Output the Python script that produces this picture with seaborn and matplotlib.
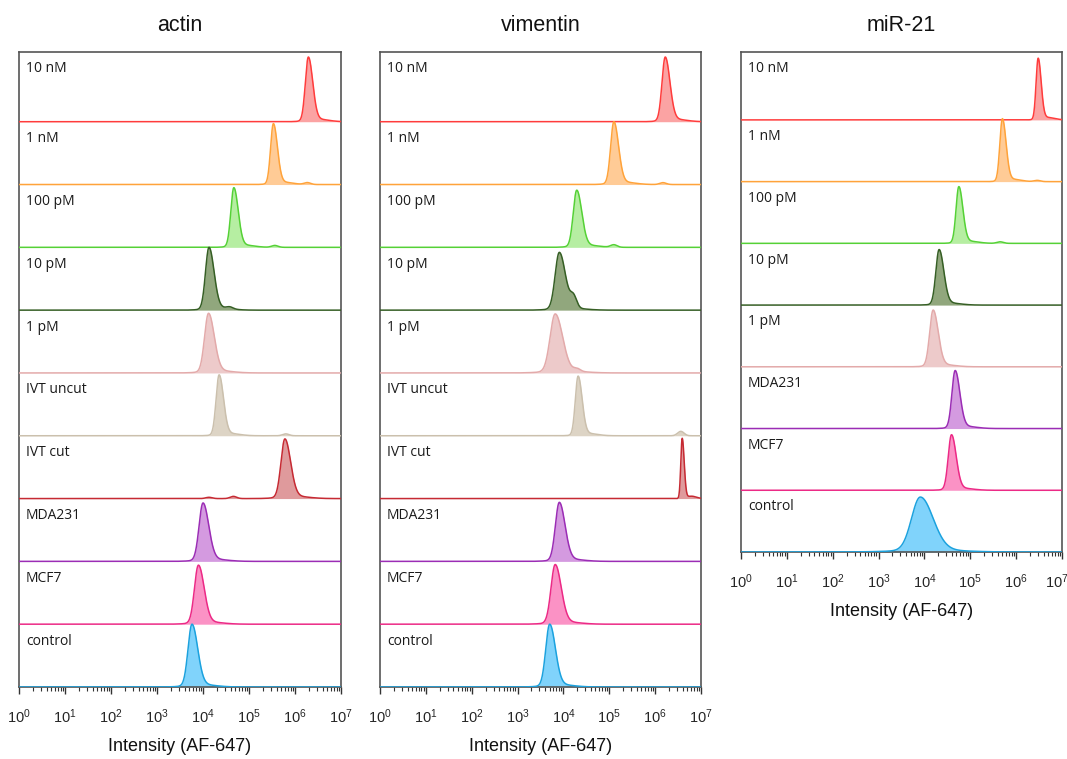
import numpy as np
import pandas as pd
import matplotlib
matplotlib.use("Agg")
import matplotlib.pyplot as plt
import matplotlib.transforms as mtransforms
import seaborn as sns
from matplotlib.ticker import LogLocator, NullFormatter

sns.set_theme(style="white")
plt.rcParams['font.family'] = ['Liberation Sans', 'DejaVu Sans']
plt.rcParams['mathtext.fontset'] = 'custom'
plt.rcParams['mathtext.rm'] = 'Liberation Sans'

# sample rows, top to bottom
samples = ["10 nM", "1 nM", "100 pM", "10 pM", "1 pM", "IVT uncut", "IVT cut",
           "MDA231", "MCF7", "control"]
mir_samples = ["10 nM", "1 nM", "100 pM", "10 pM", "1 pM", "MDA231", "MCF7", "control"]

line_colors = {"10 nM": "#ff3c3c", "1 nM": "#ffa33a", "100 pM": "#55d136",
               "10 pM": "#365f25", "1 pM": "#e3aaaa", "IVT uncut": "#cbc0ad",
               "IVT cut": "#c62a33", "MDA231": "#9b2db5", "MCF7": "#ec2a86",
               "control": "#1ca2de"}
fill_colors = {"10 nM": "#fba3a3", "1 nM": "#ffcb96", "100 pM": "#b6eea2",
               "10 pM": "#91a77d", "1 pM": "#edcaca", "IVT uncut": "#ddd4c5",
               "IVT cut": "#df9a9c", "MDA231": "#d49ae0", "MCF7": "#fb92c5",
               "control": "#80d3fb"}

# peak position (log10 intensity), peak width (decades), peak height (rows)
actin_peak = [6.29, 5.53, 4.67, 4.13, 4.12, 4.35, 5.78, 4.00, 3.90, 3.76]
actin_width = [0.065, 0.06, 0.065, 0.075, 0.085, 0.065, 0.085, 0.085, 0.085, 0.085]
actin_height = [1.03, 0.97, 0.95, 1.0, 0.95, 0.97, 0.95, 0.93, 0.94, 1.0]
actin_minor = [[], [(6.27, 0.03)], [(5.56, 0.03)], [(4.58, 0.03)], [],
               [(5.80, 0.03)], [(4.13, 0.02), (4.66, 0.035)], [], [], []]

vim_peak = [6.22, 5.10, 4.29, 3.91, 3.82, 4.32, 6.59, 3.91, 3.82, 3.70]
vim_width = [0.07, 0.07, 0.075, 0.09, 0.11, 0.06, 0.03, 0.085, 0.09, 0.085]
vim_height = [1.03, 1.0, 0.91, 0.92, 0.94, 0.95, 0.96, 0.94, 0.95, 1.0]
vim_minor = [[], [(6.17, 0.03)], [(5.10, 0.04)], [(4.22, 0.18)], [(4.3, 0.04)],
             [(6.56, 0.07)], [], [], [], []]

mir_peak = [6.48, 5.70, 4.75, 4.32, 4.19, 4.67, 4.59, 3.91]
mir_width = [0.045, 0.055, 0.06, 0.07, 0.075, 0.07, 0.07, 0.19]
mir_height = [1.0, 1.02, 0.92, 0.9, 0.92, 0.94, 0.9, 0.89]
mir_minor = [[], [(6.46, 0.02)], [(5.65, 0.025)], [], [], [], [], []]

grid = np.linspace(0, 7, 2101)


def curve(center, width, height, minor):
    sig = np.where(grid < center, width, width * 1.45)
    y = np.exp(-0.5 * ((grid - center) / sig) ** 2)
    y += 0.04 * np.exp(-0.5 * ((grid - center - 0.2) / (width * 3.5)) ** 2)
    y = y / y.max() * height
    for pos, h in minor:
        y += h * np.exp(-0.5 * ((grid - pos) / 0.07) ** 2)
    return y


def draw_panel(ax, title, names, peaks, widths, heights, minors, ytop):
    n = len(names)
    trans = mtransforms.blended_transform_factory(ax.transAxes, ax.transData)
    for i, name in enumerate(names):
        base = n - 1 - i
        df = pd.DataFrame({"x": 10 ** grid,
                           "y": base + curve(peaks[i], widths[i], heights[i], minors[i])})
        ax.fill_between(df["x"], base, df["y"], color=fill_colors[name], lw=0, zorder=2)
        sns.lineplot(data=df, x="x", y="y", ax=ax, color=line_colors[name],
                     lw=1.1, sort=False, estimator=None, zorder=3)
        row_top = ytop if i == 0 else base + 1
        ax.text(0.022, row_top - 0.27, name, transform=trans, ha="left", va="center",
                fontsize=10, family=["Open Sans", "DejaVu Sans"], color="#1a1a1a")
    ax.set_xscale("log")
    ax.set_xlim(1, 1e7)
    ax.set_ylim(0, ytop)
    ax.set_yticks([])
    ax.set_ylabel("")
    ax.set_xticks([10 ** k for k in range(8)])
    ax.set_xticklabels([f"$\\mathregular{{10^{{{k}}}}}$" for k in range(8)])
    ax.xaxis.set_minor_locator(LogLocator(base=10, subs=np.arange(2, 10), numticks=20))
    ax.xaxis.set_minor_formatter(NullFormatter())
    ax.tick_params(axis="x", which="major", direction="out", length=5, width=1,
                   color="#333333", labelsize=10.5, pad=10, bottom=True)
    ax.tick_params(axis="x", which="minor", direction="out", length=3, width=0.8,
                   color="#333333", bottom=True)
    for sp in ax.spines.values():
        sp.set_color("#555555")
        sp.set_linewidth(1.2)
    ax.set_xlabel("Intensity (AF-647)", fontsize=13, labelpad=8, color="#111111")
    ax.set_title(title, fontsize=15.5, pad=15, color="#111111")


fig = plt.figure(figsize=(10.67, 7.59), dpi=100)
W, H = 1067, 759
ax1 = fig.add_axes([19 / W, 1 - 687 / H, 322 / W, 635 / H])
ax2 = fig.add_axes([380 / W, 1 - 687 / H, 321 / W, 635 / H])
ax3 = fig.add_axes([741 / W, 1 - 552 / H, 321 / W, 500 / H])

draw_panel(ax1, "actin", samples, actin_peak, actin_width, actin_height, actin_minor, 10.11)
draw_panel(ax2, "vimentin", samples, vim_peak, vim_width, vim_height, vim_minor, 10.11)
draw_panel(ax3, "miR-21", mir_samples, mir_peak, mir_width, mir_height, mir_minor, 8.1)

# keep the last tick label of the right panel inside the figure
last = ax3.get_xticklabels()[-1]
last.set_transform(last.get_transform() + mtransforms.ScaledTranslation(-5 / 100, 0, fig.dpi_scale_trans))

fig.savefig("out.png", dpi=100, facecolor="white")
